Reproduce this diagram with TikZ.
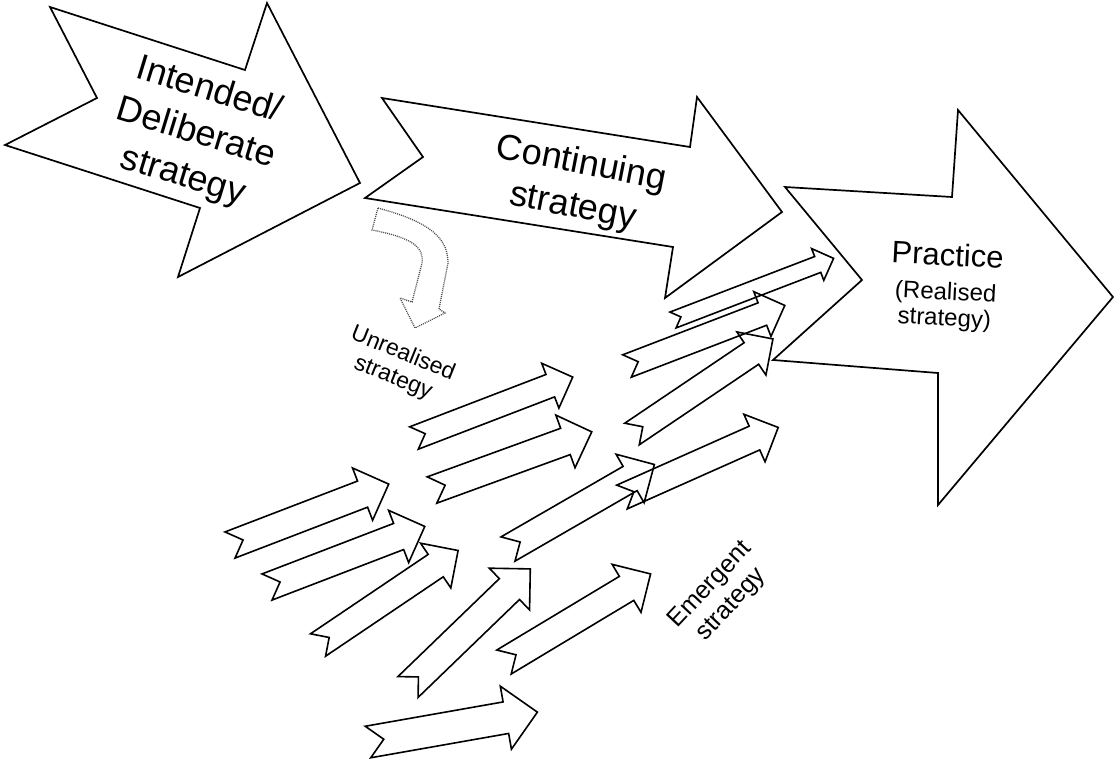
\documentclass[tikz,border=0pt]{standalone}
\usepackage{fontspec}
\setmainfont{Liberation Sans}
\usepackage{tikz}

\tikzset{
  bigarrow/.style={draw=black, fill=white, line width=1.7pt},
  emarrow/.style={draw=black, line width=1.6pt},
  lostarrow/.style={draw=black!70, fill=white, line width=1.3pt, dash pattern=on 1pt off 1pt},
  stratext/.style={align=center, inner sep=0pt}
}

\begin{document}
\begin{tikzpicture}[x=1pt, y=-1pt]
	\useasboundingbox (0,0) rectangle (1114,761);
	% the three big arrows
	\filldraw[bigarrow] (50,7) -- (245,70) -- (267,3) -- (360,183) -- (178,277) -- (200,208) -- (5,145) -- (97,98) -- cycle;
	\filldraw[bigarrow] (382,98) -- (690,147) -- (697,97) -- (782,212) -- (665,298) -- (673,247) -- (365,198) -- (423,157) -- cycle;
	\filldraw[bigarrow] (785,187) -- (952,197) -- (958,110) -- (1113,297) -- (938,505) -- (938,373) -- (773,360) -- (862,280) -- cycle;
	% unrealised (dotted, bent)
	\filldraw[lostarrow] (378,208) .. controls (430,222) and (448,238) .. (448,263) -- (439,309) -- (445,313) -- (415,328) -- (400,298) -- (412,302) -- (422,263) .. controls (424,248) and (414,238) .. (372,230) -- cycle;
	% emergent arrows: tail x / tail y / angle / length / half width
	\foreach \x/\y/\a/\l/\w in {673/320/21/172/8.5, 627/366/21/169/12, 632/434/34/170/13,
		414/438/21/170/12, 432/490/20/170/14, 622/497/24/171/13, 508/549/30/169/14,
		230/545/21/170/14, 267/587/21/169/14, 318/645/34/169/13.5, 408/687/44/170/14.5,
		504/662/31/171/14, 368/742/10/172/16}
	{
		\begin{scope}[shift={(\x,\y)}, rotate=\a]
			\draw[emarrow] (0,\w) -- ({\l-2*\w},\w) -- ({\l-2*\w},{2*\w}) -- (\l,0) -- ({\l-2*\w},{-2*\w}) -- ({\l-2*\w},-\w) -- (0,-\w) -- (\w,0) -- cycle;
		\end{scope}
	}
	% labels
	\node[stratext, rotate=-17, font=\fontsize{36}{45}\selectfont] (intended) at (196,134) {Intended/\\Deliberate\\strategy};
	\node[stratext, rotate=-11, font=\fontsize{36}{44}\selectfont] (continuing) at (577,186) {Continuing\\strategy};
	\node[stratext, rotate=-3, font=\fontsize{24}{26}\selectfont] (practice) at (946,287) {{\fontsize{31}{35}\selectfont Practice}\\[8pt](Realised\\strategy)};
	\node[stratext, rotate=-22, font=\fontsize{23}{26}\selectfont] (unrealised) at (398,366) {Unrealised\\strategy};
	\node[stratext, rotate=47, font=\fontsize{25}{29}\selectfont] (emergent) at (721,595) {Emergent\\strategy};
\end{tikzpicture}
\end{document}
